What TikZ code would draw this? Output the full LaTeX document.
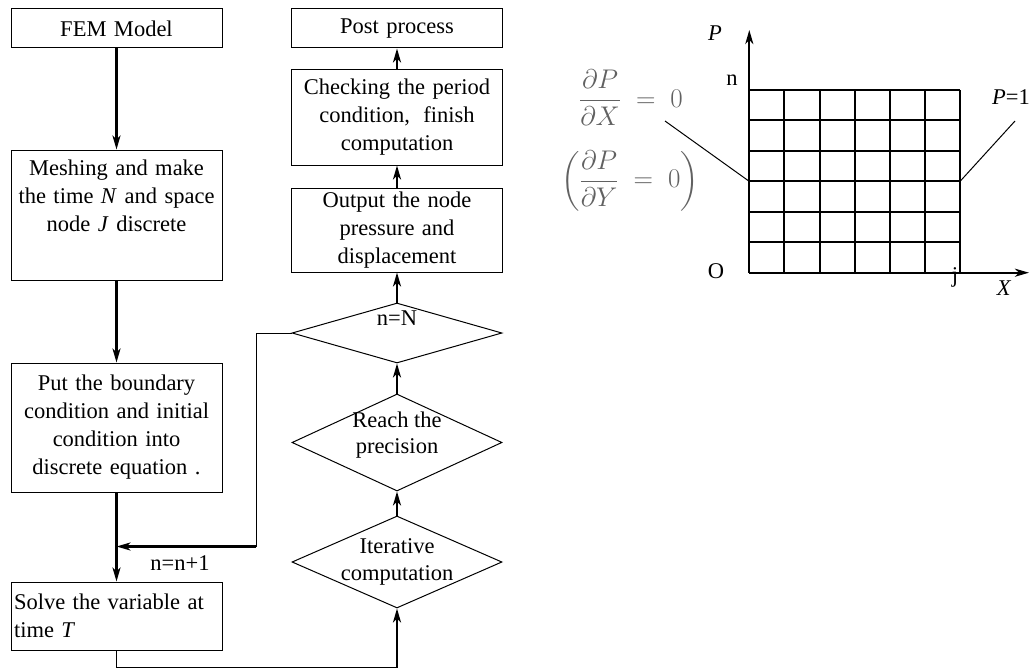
\RequirePackage{fix-cm}
\documentclass[tikz,border=0pt]{standalone}
\usepackage{amsmath}
\usepackage{fontspec}
\setmainfont{Liberation Serif}
\usepackage{tikz}
\usetikzlibrary{arrows.meta, positioning, shapes.geometric, calc}

\begin{document}
\begin{tikzpicture}[
    x=1pt, y=-1pt,
    font=\fontsize{22.5}{28}\selectfont,
    box/.style={rectangle, draw, line width=1pt, minimum width=211, text width=205, inner xsep=3pt, inner ysep=1pt, align=center},
    dia/.style={diamond, draw, line width=1pt, minimum width=210, inner sep=0pt},
    arrow/.style={-{Stealth[length=14pt, width=8pt, inset=4pt]}, line width=2.2pt},
    link/.style={line width=1pt},
    eq/.style={text=black!62, font=\fontsize{27}{32}\selectfont},
    grd/.style={line width=2pt}
]
\useasboundingbox (0,0) rectangle (1033,669);

% left column
\node[box, minimum height=39] (fem) at (116.5,28.5) {FEM Model};
\node[box, minimum height=130] (mesh) at (116.5,215)
    {\parbox[c][110pt][t]{205pt}{\centering Meshing and make\\the time \textit{N} and space\\node \textit{J} discrete}};
\node[box, minimum height=129] (put) at (116.5,427.5)
    {Put the boundary\\condition and initial\\condition into\\discrete equation .};
\node[box, minimum height=68, align=left, inner xsep=1pt] (solve) at (116.5,616)
    {Solve the variable at\\time \textit{T}};

% right column
\node[box, minimum height=39] (post) at (397,28.5) {Post process};
\node[box, minimum height=95] (check) at (397,117.5)
    {Checking the period\\condition,\hspace{0.6em}finish\\computation};
\node[box, minimum height=84] (output) at (397,230)
    {Output the node\\pressure and\\displacement};
\node[dia, minimum height=60] (nN) at (397,333) {};
\node (nNtxt) at ([yshift=15]nN.center) {n=N};
\node[dia, minimum height=97] (reach) at (397,442.5) {};
\node[align=center, font=\fontsize{22.5}{26}\selectfont] (reachtxt) at ([yshift=7]reach.center) {Reach the\\precision};
\node[dia, minimum height=92] (iter) at (397,562) {};
\node[align=center, font=\fontsize{22.5}{27}\selectfont] (itertxt) at (iter.center) {Iterative\\computation};

\draw[arrow] (fem) -- (mesh);
\draw[arrow] (mesh) -- (put);
\draw[arrow] (put) -- (solve);
\draw[arrow] (iter) -- (reach);
\draw[arrow] (reach) -- (nN);
\draw[arrow] (nN) -- (output);
\draw[arrow] (output) -- (check);
\draw[arrow] (check) -- (post);

% loops
\coordinate (back) at (256,546.5);
\coordinate (hit) at (put.south |- back);
\draw[link] (nN.west) -| (back);
\draw[arrow] (back) -- (hit);
\node (inc) at (180,563) {n=n+1};
\coordinate (turn) at (iter.south |- 0,667.5);
\draw[link] (solve.south) |- (turn);
\draw[arrow] (turn) -- (iter.south);

% mesh of nodes
\coordinate (o) at (749.3,272.7);
\foreach \i in {0,...,6} {
    \draw[grd] ($(o)+(\i*35.12,0)$) -- ($(o)+(\i*35.12,-182.7)$);
    \draw[grd] ($(o)+(0,-\i*30.45)$) -- ($(o)+(210.7,-\i*30.45)$);
}
\coordinate (ptop) at (749.3,30);
\coordinate (xend) at (1029,272.7);
\draw[arrow] (o) -- (ptop);
\draw[arrow] (o) -- (xend);
\node (plab) at (715,33) {\textit{P}};
\node (nlab) at (732,80) {n};
\node (olab) at (716,271) {O};
\node (jlab) at (955,277) {j};
\node (xlab) at (1004,288) {\textit{X}};
\node (pone) at (1011,97) {\textit{P}=1};

% boundary conditions
\node[eq] (dpx) at (631,98) {$\dfrac{\partial P}{\partial X}\;=\;0$};
\node[eq] (dpy) at (630,181) {$\left(\dfrac{\partial P}{\partial Y}\;=\;0\right)$};
\coordinate (lpt) at (749.3,181.4);
\coordinate (rpt) at (960,181.4);
\coordinate (lend) at (665,121);
\coordinate (rend) at (1015,121);
\draw[link] (lend) -- (lpt);
\draw[link] (rend) -- (rpt);
\end{tikzpicture}
\end{document}
